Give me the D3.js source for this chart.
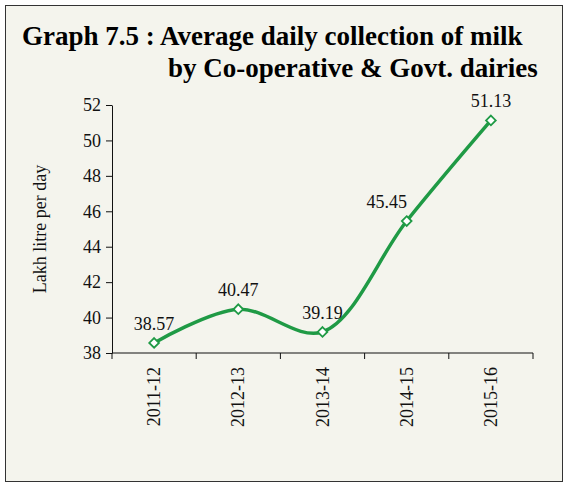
<!DOCTYPE html>
<html><head><meta charset="utf-8">
<script src="https://cdn.jsdelivr.net/npm/d3@7"></script>
<style>body{margin:0;background:#fff}</style>
</head><body>
<div class="graph"></div>
<script>
var years = ['2011-12', '2012-13', '2013-14', '2014-15', '2015-16']
var values = [38.57, 40.47, 39.19, 45.45, 51.13]
var yTicks = [38, 40, 42, 44, 46, 48, 50, 52]

var svg = d3.select('.graph').append('svg')
    .attr('width', 568).attr('height', 487)
    .style('font-family', 'Liberation Serif, Times New Roman, serif')

svg.append('rect').attr('x', 5.5).attr('y', 5.5).attr('width', 557).attr('height', 476)
    .attr('fill', '#f4f4ed').attr('stroke', '#333').attr('stroke-width', 1)

svg.append('text').attr('x', 22).attr('y', 45).attr('font-size', 27).attr('font-weight', 'bold')
    .text('Graph 7.5 : Average daily collection of milk')
svg.append('text').attr('x', 168).attr('y', 77).attr('font-size', 27).attr('font-weight', 'bold')
    .text('by Co-operative & Govt. dairies')

var x = d3.scaleBand().domain(years).range([112, 533])
var y = d3.scaleLinear().domain([38, 52]).range([353, 105])

// y axis
var ya = svg.append('g').attr('transform', 'translate(112,0)')
    .call(d3.axisLeft(y).tickValues(yTicks).tickSize(6).tickSizeOuter(0))
ya.selectAll('text').attr('font-size', 18).attr('font-family', 'Liberation Serif, serif').attr('fill', '#111').attr('dx', -2)
ya.selectAll('line,path').attr('stroke', '#111')

// x axis, ticks at category boundaries
var xa = svg.append('g').attr('transform', 'translate(0,353)')
xa.append('line').attr('x1', 112).attr('x2', 533).attr('stroke', '#111')
xa.selectAll('.tk').data(d3.range(years.length + 1)).enter().append('line')
    .attr('x1', function(i) { return 112 + i * x.step() })
    .attr('x2', function(i) { return 112 + i * x.step() })
    .attr('y1', 0).attr('y2', 6).attr('stroke', '#111')
xa.selectAll('.lb').data(years).enter().append('text')
    .attr('transform', function(d) { return 'translate(' + (x(d) + x.bandwidth() / 2 + 6) + ',14) rotate(-90)' })
    .attr('text-anchor', 'end').attr('font-size', 18).attr('fill', '#111').text(function(d) { return d })

svg.append('text').attr('transform', 'translate(46,229) rotate(-90)')
    .attr('text-anchor', 'middle').attr('font-size', 18).attr('fill', '#111').text('Lakh litre per day')

var pts = years.map(function(d, i) { return [x(d) + x.bandwidth() / 2, y(values[i])] })

svg.append('path').attr('d', d3.line().curve(d3.curveCatmullRom.alpha(0.5))(pts))
    .attr('fill', 'none').attr('stroke', '#1f9a45').attr('stroke-width', 3.5)

svg.selectAll('.pt').data(pts).enter().append('path')
    .attr('d', d3.symbol(d3.symbolDiamond2, 60)())
    .attr('transform', function(p) { return 'translate(' + p[0] + ',' + p[1] + ')' })
    .attr('fill', '#fff').attr('stroke', '#1f9a45').attr('stroke-width', 1.8)

var dx = [0, 0, 0, -20, 0]
svg.selectAll('.vl').data(values).enter().append('text')
    .attr('x', function(v, i) { return pts[i][0] + dx[i] })
    .attr('y', function(v, i) { return pts[i][1] - 13 })
    .attr('text-anchor', 'middle').attr('font-size', 18).attr('fill', '#111')
    .text(function(v) { return v.toFixed(2) })
</script>
</body></html>
